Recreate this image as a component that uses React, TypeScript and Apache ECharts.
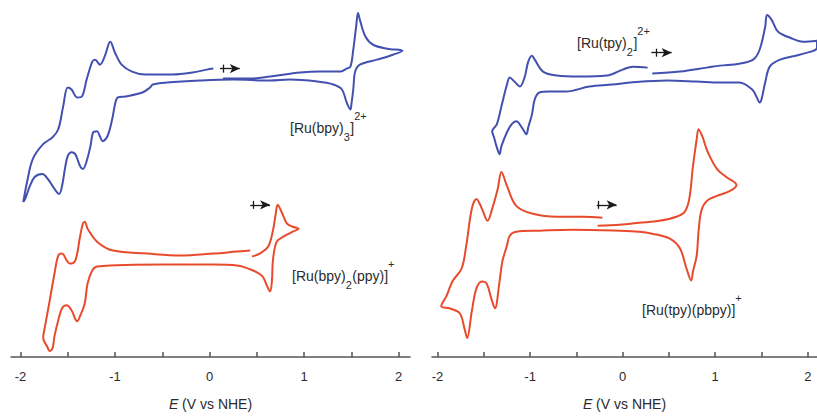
import { useEffect, useRef } from "react";
import * as echarts from "echarts";

// potential ticks (V vs NHE)
const tickValues = [-2, -1.5, -1, -0.5, 0, 0.5, 1, 1.5, 2];
const labelValues = [-2, -1, 0, 1, 2];

// [E (V), current (arb. units)] in scan order
const ruBpy3 = [
  [0.14, 280], [0.43, 280], [0.64, 282], [0.96, 286], [1.17, 287], [1.38, 287], [1.45, 290], [1.49, 292], [1.52, 309], [1.55, 332], [1.57, 346], [1.59, 339], [1.65, 322], [1.73, 314], [1.88, 310], [2.04, 308],
  [1.94, 304], [1.77, 299], [1.59, 294], [1.54, 287], [1.52, 269], [1.5, 254], [1.49, 249], [1.45, 256], [1.4, 269], [1.31, 274], [1.14, 277], [0.85, 279], [0.64, 278], [0.25, 279], [-0.1, 278], [-0.45, 276], [-0.6, 274], [-0.63, 271], [-0.71, 266], [-0.89, 262], [-0.97, 261], [-1.0, 254], [-1.03, 239], [-1.08, 222], [-1.13, 217], [-1.16, 222], [-1.19, 227], [-1.23, 226], [-1.26, 212], [-1.3, 197], [-1.34, 189], [-1.37, 192], [-1.42, 204], [-1.46, 206], [-1.5, 202], [-1.53, 189], [-1.56, 172], [-1.59, 164], [-1.64, 169], [-1.71, 179], [-1.77, 184], [-1.85, 181], [-1.9, 172], [-1.95, 159], [-1.97, 156],
  [-1.93, 176], [-1.87, 199], [-1.76, 214], [-1.66, 221], [-1.6, 229], [-1.55, 251], [-1.5, 271], [-1.46, 269], [-1.4, 261], [-1.35, 262], [-1.3, 279], [-1.24, 297], [-1.21, 299], [-1.16, 294], [-1.11, 302], [-1.05, 317], [-1.0, 306], [-0.93, 294], [-0.82, 287], [-0.68, 284], [-0.39, 284], [-0.18, 286], [-0.03, 289], [0.04, 290],
];

const ruBpy2Ppy = [
  [0.45, 101], [0.53, 104], [0.62, 111], [0.67, 127], [0.7, 144], [0.72, 153], [0.77, 144], [0.82, 134], [0.88, 131], [0.94, 129],
  [0.88, 126], [0.78, 121], [0.71, 116], [0.67, 97], [0.66, 77], [0.64, 66], [0.61, 71], [0.56, 81], [0.46, 87], [0.29, 92], [0.04, 93], [-0.49, 93], [-1.19, 91], [-1.24, 87], [-1.29, 74], [-1.32, 54], [-1.37, 41], [-1.4, 36], [-1.46, 47], [-1.51, 52], [-1.56, 49], [-1.6, 37], [-1.64, 21], [-1.66, 9], [-1.69, 6], [-1.72, 11], [-1.76, 19],
  [-1.74, 31], [-1.69, 57], [-1.64, 84], [-1.6, 102], [-1.56, 104], [-1.51, 97], [-1.48, 94], [-1.42, 97], [-1.37, 121], [-1.34, 134], [-1.32, 136], [-1.29, 129], [-1.19, 116], [-1.02, 107], [-0.66, 104], [-0.31, 102], [0.04, 104], [0.29, 106], [0.43, 107],
];

const ruTpy2 = [
  [0.32, 285], [0.62, 287], [0.91, 291], [1.05, 293], [1.26, 295], [1.41, 299], [1.48, 309], [1.54, 332], [1.56, 344], [1.61, 339], [1.68, 327], [1.81, 321], [1.95, 317], [2.1, 318],
  [2.1, 311], [1.91, 304], [1.7, 299], [1.59, 292], [1.54, 276], [1.5, 259], [1.48, 256], [1.45, 261], [1.4, 269], [1.26, 276], [1.05, 276], [0.8, 277], [0.48, 278], [0.08, 276], [-0.11, 274], [-0.36, 272], [-0.61, 267], [-0.79, 267], [-0.9, 266], [-0.95, 259], [-0.98, 244], [-1.02, 231], [-1.04, 224], [-1.09, 231], [-1.15, 237], [-1.2, 234], [-1.25, 226], [-1.31, 212], [-1.33, 204], [-1.36, 211], [-1.39, 221], [-1.41, 227],
  [-1.36, 234], [-1.31, 252], [-1.25, 274], [-1.22, 281], [-1.17, 277], [-1.11, 272], [-1.06, 281], [-1.02, 297], [-0.98, 303], [-0.95, 299], [-0.86, 287], [-0.71, 283], [-0.47, 282], [-0.17, 283], [0.0, 289], [0.11, 292], [0.27, 291],
];

const ruTpyPbpy = [
  [-0.27, 132], [-0.03, 133], [0.18, 135], [0.4, 137], [0.58, 141], [0.67, 146], [0.72, 159], [0.76, 192], [0.8, 219], [0.82, 229], [0.86, 222], [0.92, 206], [1.02, 189], [1.12, 181], [1.23, 173],
  [1.16, 167], [1.02, 162], [0.91, 157], [0.85, 147], [0.82, 126], [0.8, 102], [0.76, 86], [0.74, 77], [0.69, 89], [0.62, 109], [0.51, 119], [0.32, 124], [0.18, 126], [-0.03, 127], [-0.54, 128], [-0.9, 127], [-1.15, 126], [-1.22, 122], [-1.25, 112], [-1.3, 96], [-1.33, 76], [-1.38, 49], [-1.42, 59], [-1.47, 74], [-1.52, 76], [-1.58, 69], [-1.63, 46], [-1.68, 19], [-1.71, 29], [-1.76, 44], [-1.87, 49], [-1.96, 51],
  [-1.9, 62], [-1.84, 76], [-1.74, 89], [-1.69, 112], [-1.63, 149], [-1.58, 159], [-1.52, 149], [-1.46, 137], [-1.41, 149], [-1.35, 169], [-1.31, 186], [-1.25, 172], [-1.15, 152], [-0.97, 144], [-0.71, 141], [-0.43, 141], [-0.22, 140],
];

// scan-direction arrows: [start E, end E, tick E, current]
const ruBpy3Arrow = [0.11, 0.32, 0.15, 290];
const ruBpy2PpyArrow = [0.43, 0.64, 0.46, 153];
const ruTpy2Arrow = [0.31, 0.53, 0.36, 306];
const ruTpyPbpyArrow = [-0.28, -0.065, -0.26, 153];

// compound labels: [text, n | sub | sup]
const labelRuBpy3 = [["[Ru(bpy)", "n"], ["3", "sub"], ["]", "n"], ["2+", "sup"]];
const labelRuBpy2Ppy = [["[Ru(bpy)", "n"], ["2", "sub"], ["(ppy)]", "n"], ["+", "sup"]];
const labelRuTpy2 = [["[Ru(tpy)", "n"], ["2", "sub"], ["]", "n"], ["2+", "sup"]];
const labelRuTpyPbpy = [["[Ru(tpy)(pbpy)]", "n"], ["+", "sup"]];

const BLUE = "#4251b0";
const RED = "#e84a2c";
const FONT = "Liberation Sans";
const TEXT = "#2b2b2b";

function arrowMark(a: number[]) {
  const [x1, x2, xt, y] = a;
  return {
    silent: true,
    symbol: ["none", "arrow"],
    symbolSize: [7, 10],
    lineStyle: { color: "#1a1a1a", width: 1.3, type: "solid" },
    label: { show: false },
    emphasis: { disabled: true },
    data: [
      [{ coord: [x1, y] }, { coord: [x2, y] }],
      [
        { coord: [xt, y - 4], symbol: "none" },
        { coord: [xt, y + 4], symbol: "none" },
      ],
    ],
  };
}

function curve(idx: number, data: number[][], color: string, arrow: number[]) {
  return {
    type: "line",
    xAxisIndex: idx,
    yAxisIndex: idx,
    data,
    symbol: "none",
    smooth: 0.35,
    lineStyle: { color, width: 2 },
    markLine: arrowMark(arrow),
  };
}

function xAxis(idx: number, min: number, max: number) {
  return {
    type: "value",
    gridIndex: idx,
    min,
    max,
    axisLine: { show: true, lineStyle: { color: "#555", width: 1.5 } },
    axisTick: {
      show: true,
      inside: true,
      length: 5,
      customValues: tickValues,
      lineStyle: { color: "#555", width: 1.5 },
    },
    axisLabel: {
      customValues: labelValues,
      margin: 13,
      color: TEXT,
      fontSize: 13,
      fontFamily: FONT,
      formatter: (v: number) => String(v),
    },
    splitLine: { show: false },
    name: "{i|E} (V vs NHE)",
    nameLocation: "middle",
    nameGap: 40,
    nameTextStyle: {
      color: TEXT,
      fontSize: 14,
      fontFamily: FONT,
      rich: { i: { fontStyle: "italic", fontSize: 14, color: TEXT, fontFamily: FONT } },
    },
  };
}

function yAxis(idx: number) {
  return { type: "value", gridIndex: idx, min: 0, max: 359, show: false };
}

export default function App() {
  const ref = useRef<HTMLDivElement>(null);
  useEffect(() => {
    const ctx = document.createElement("canvas").getContext("2d")!;
    const measure = (t: string, size: number) => {
      ctx.font = `${size}px "${FONT}"`;
      return ctx.measureText(t).width;
    };
    const label = (x: number, y: number, parts: string[][]) => {
      let cx = 0;
      const children = parts.map(([t, kind]) => {
        const size = kind === "n" ? 14 : 11;
        const dy = kind === "sub" ? 9 : kind === "sup" ? -12 : 0;
        const el = {
          type: "text",
          x: cx,
          y: dy,
          silent: true,
          style: {
            text: t,
            fill: TEXT,
            fontSize: size,
            fontFamily: FONT,
            align: "left",
            verticalAlign: "middle",
          },
        };
        cx += measure(t, size) + (kind === "n" ? 0 : 0.5);
        return el;
      });
      return { type: "group", x, y, silent: true, children };
    };

    const chart = echarts.init(ref.current!, null, { renderer: "svg" });
    chart.setOption({
      animation: false,
      backgroundColor: "#ffffff",
      grid: [
        { left: 11, right: 407, top: 0, bottom: 57 },
        { left: 432, right: 0, top: 0, bottom: 57 },
      ],
      xAxis: [xAxis(0, -2.1, 2.12), xAxis(1, -2.06, 2.1)],
      yAxis: [yAxis(0), yAxis(1)],
      series: [
        curve(0, ruBpy3, BLUE, ruBpy3Arrow),
        curve(0, ruBpy2Ppy, RED, ruBpy2PpyArrow),
        curve(1, ruTpy2, BLUE, ruTpy2Arrow),
        curve(1, ruTpyPbpy, RED, ruTpyPbpyArrow),
      ],
      graphic: [
        label(290, 128, labelRuBpy3),
        label(292, 276, labelRuBpy2Ppy),
        label(577, 43, labelRuTpy2),
        label(642, 310, labelRuTpyPbpy),
      ],
    });
    return () => chart.dispose();
  }, []);
  return (
    <div
      ref={ref}
      style={{ position: "absolute", left: 0, top: 0, width: 817, height: 416 }}
    />
  );
}
